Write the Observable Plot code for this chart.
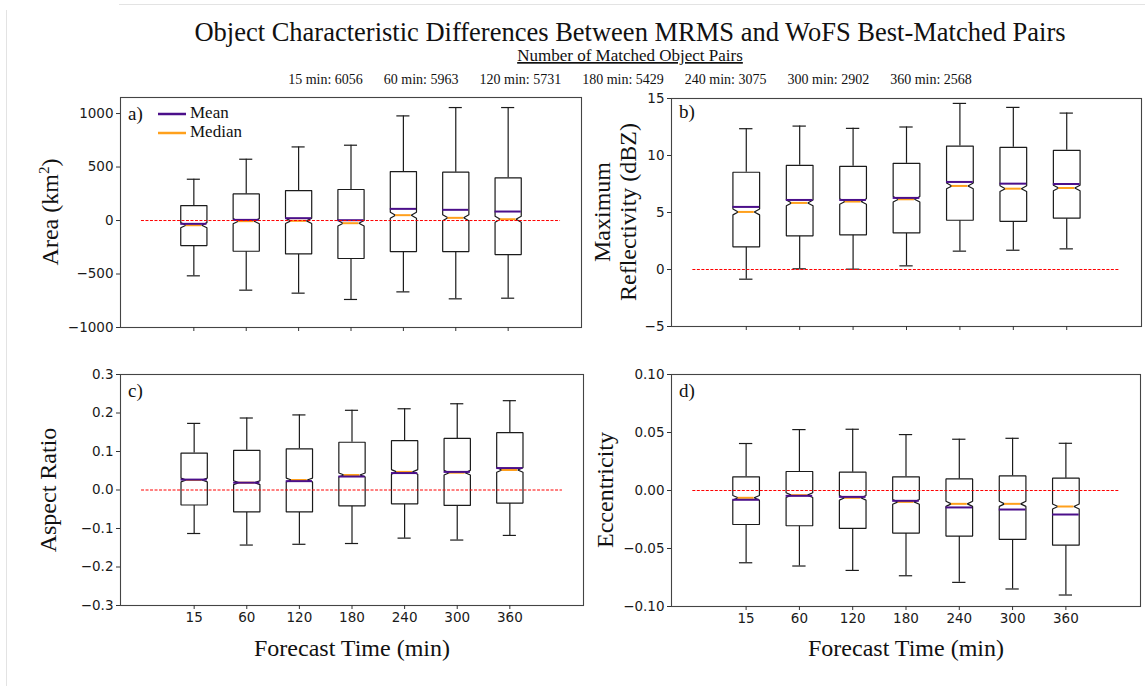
<!DOCTYPE html>
<html><head><meta charset="utf-8">
<script src="https://cdn.jsdelivr.net/npm/d3@7"></script>
<script src="https://cdn.jsdelivr.net/npm/@observablehq/plot@0.6"></script>
<style>
body{margin:0;background:#fff;}
#root{position:relative;width:1145px;height:686px;overflow:hidden;background:#fff;}
.panel{position:absolute;}
#overlay{position:absolute;left:0;top:0;pointer-events:none;}
.serif{font-family:"Liberation Serif","Times New Roman",serif;fill:#111;}
</style></head><body><div id="root"></div>
<script>
// ---------- data ----------
const times = ["15", "60", "120", "180", "240", "300", "360"];
const pairCounts = [6056, 5963, 5731, 5429, 3075, 2902, 2568];

// a) Area (km^2)
const areaLo     = [-517, -651, -679, -738, -667, -732, -726];
const areaQ1     = [-234, -287, -312, -355, -290, -290, -318];
const areaMedian = [-44, -6, -3, -25, 50, 25, 12];
const areaMean   = [-31, 6, 22, 3, 109, 100, 84];
const areaQ3     = [140, 249, 280, 290, 458, 452, 399];
const areaHi     = [386, 573, 688, 704, 978, 1056, 1056];
const areaNotch  = [24, 24, 25, 26, 28, 28, 28];

// b) Maximum Reflectivity (dBZ)
const reflLo     = [-0.85, 0.06, 0.03, 0.32, 1.61, 1.69, 1.81];
const reflQ1     = [1.99, 2.95, 3.04, 3.21, 4.32, 4.23, 4.50];
const reflMedian = [5.05, 5.84, 5.96, 6.16, 7.33, 7.09, 7.15];
const reflMean   = [5.49, 6.10, 6.10, 6.28, 7.68, 7.53, 7.50];
const reflQ3     = [8.53, 9.14, 9.05, 9.31, 10.83, 10.72, 10.45];
const reflHi     = [12.35, 12.58, 12.38, 12.50, 14.57, 14.22, 13.72];
const reflNotch  = [0.26, 0.25, 0.24, 0.24, 0.25, 0.25, 0.24];

// c) Aspect Ratio
const aspLo      = [-0.113, -0.143, -0.141, -0.139, -0.125, -0.130, -0.118];
const aspQ1      = [-0.039, -0.057, -0.057, -0.041, -0.036, -0.040, -0.034];
const aspMedian  = [0.026, 0.019, 0.026, 0.039, 0.047, 0.045, 0.052];
const aspMean    = [0.027, 0.019, 0.023, 0.035, 0.044, 0.047, 0.057];
const aspQ3      = [0.096, 0.103, 0.107, 0.124, 0.128, 0.134, 0.149];
const aspHi      = [0.173, 0.187, 0.195, 0.207, 0.211, 0.224, 0.232];
const aspNotch   = [0.005, 0.005, 0.005, 0.005, 0.006, 0.006, 0.006];

// d) Eccentricity
const eccLo      = [-0.0623, -0.0651, -0.0689, -0.0735, -0.0792, -0.0849, -0.0901];
const eccQ1      = [-0.0293, -0.0304, -0.0327, -0.0367, -0.0393, -0.0422, -0.0471];
const eccMedian  = [-0.0063, -0.0040, -0.0063, -0.0098, -0.0115, -0.0115, -0.0138];
const eccMean    = [-0.0080, -0.0046, -0.0055, -0.0089, -0.0146, -0.0164, -0.0207];
const eccQ3      = [0.0118, 0.0164, 0.0158, 0.0118, 0.0100, 0.0126, 0.0106];
const eccHi      = [0.0405, 0.0525, 0.0528, 0.0482, 0.0442, 0.0450, 0.0407];
const eccNotch   = [0.0020, 0.0020, 0.0020, 0.0021, 0.0022, 0.0022, 0.0022];

const areaTicks = [-1000, -500, 0, 500, 1000];
const reflTicks = [-5, 0, 5, 10, 15];
const aspTicks  = [-0.3, -0.2, -0.1, 0.0, 0.1, 0.2, 0.3];
const eccTicks  = [-0.10, -0.05, 0.00, 0.05, 0.10];

// ---------- helpers ----------
const MEAN_COLOR = "#4b0f8a";
const MEDIAN_COLOR = "#ffa01c";
const BOX_HALF = 0.25, NOTCH_HALF = 0.15, CAP_HALF = 0.125;

function makeBoxes(lo, q1, med, mean, q3, hi, notch) {
  return times.map((t, i) => ({pos: i + 1, time: t, lo: lo[i], q1: q1[i], med: med[i],
    mean: mean[i], q3: q3[i], hi: hi[i], notch: notch[i]}));
}
function outline(boxes) {
  return boxes.flatMap(b => [
    [b.pos - BOX_HALF, b.q1], [b.pos + BOX_HALF, b.q1],
    [b.pos + BOX_HALF, b.med - b.notch], [b.pos + NOTCH_HALF, b.med],
    [b.pos + BOX_HALF, b.med + b.notch], [b.pos + BOX_HALF, b.q3],
    [b.pos - BOX_HALF, b.q3], [b.pos - BOX_HALF, b.med + b.notch],
    [b.pos - NOTCH_HALF, b.med], [b.pos - BOX_HALF, b.med - b.notch]
  ].map(([x, y]) => ({box: b.pos, x, y})));
}

const panels = [
  {boxes: makeBoxes(areaLo, areaQ1, areaMedian, areaMean, areaQ3, areaHi, areaNotch),
   yDomain: [-1000, 1150], yTicks: areaTicks, yFormat: d3.format("d"), xLabels: false,
   left: 0, top: 85, width: 590, height: 260, mt: 12, mr: 9, mb: 18, ml: 120},
  {boxes: makeBoxes(reflLo, reflQ1, reflMedian, reflMean, reflQ3, reflHi, reflNotch),
   yDomain: [-5, 15], yTicks: reflTicks, yFormat: d3.format("d"), xLabels: false,
   left: 590, top: 85, width: 555, height: 260, mt: 13, mr: 4, mb: 19, ml: 81},
  {boxes: makeBoxes(aspLo, aspQ1, aspMedian, aspMean, aspQ3, aspHi, aspNotch),
   yDomain: [-0.3, 0.3], yTicks: aspTicks, yFormat: d3.format(".1f"), xLabels: true,
   left: 0, top: 360, width: 590, height: 270, mt: 14, mr: 7, mb: 25, ml: 120},
  {boxes: makeBoxes(eccLo, eccQ1, eccMedian, eccMean, eccQ3, eccHi, eccNotch),
   yDomain: [-0.1, 0.1], yTicks: eccTicks, yFormat: d3.format(".2f"), xLabels: true,
   left: 590, top: 360, width: 555, height: 270, mt: 14, mr: 5, mb: 24, ml: 81}
];

const root = document.getElementById("root");

for (const p of panels) {
  const chart = Plot.plot({
    width: p.width, height: p.height,
    marginTop: p.mt, marginRight: p.mr, marginBottom: p.mb, marginLeft: p.ml,
    style: {fontFamily: "'DejaVu Sans', sans-serif", fontSize: "13.5px", color: "#1a1a1a", background: "transparent", overflow: "visible"},
    x: {domain: [-0.4, 8.4]},
    y: {domain: p.yDomain},
    marks: [
      Plot.frame({stroke: "#444", strokeWidth: 1.1}),
      Plot.axisX({ticks: [1, 2, 3, 4, 5, 6, 7], tickSize: 4, tickPadding: 3, label: null,
        tickFormat: p.xLabels ? (i => times[i - 1]) : (() => ""), stroke: "#333"}),
      Plot.axisY({ticks: p.yTicks, tickSize: 4, tickPadding: 3, label: null,
        tickFormat: p.yFormat, stroke: "#333"}),
      Plot.ruleX(p.boxes, {x: "pos", y1: "q3", y2: "hi", stroke: "#1b1b1b", strokeWidth: 1.2}),
      Plot.ruleX(p.boxes, {x: "pos", y1: "lo", y2: "q1", stroke: "#1b1b1b", strokeWidth: 1.2}),
      Plot.ruleY(p.boxes, {y: "hi", x1: d => d.pos - CAP_HALF, x2: d => d.pos + CAP_HALF, stroke: "#1b1b1b", strokeWidth: 1.2}),
      Plot.ruleY(p.boxes, {y: "lo", x1: d => d.pos - CAP_HALF, x2: d => d.pos + CAP_HALF, stroke: "#1b1b1b", strokeWidth: 1.2}),
      Plot.line(outline(p.boxes), {x: "x", y: "y", z: "box", curve: "linear-closed",
        fill: "white", stroke: "#1b1b1b", strokeWidth: 1.2, strokeLinejoin: "miter"}),
      Plot.ruleY(p.boxes, {y: "med", x1: d => d.pos - NOTCH_HALF, x2: d => d.pos + NOTCH_HALF, stroke: MEDIAN_COLOR, strokeWidth: 2}),
      Plot.ruleY(p.boxes, {y: "mean", x1: d => d.pos - BOX_HALF, x2: d => d.pos + BOX_HALF, stroke: MEAN_COLOR, strokeWidth: 2}),
      Plot.ruleY([0], {x1: 0, x2: 8, stroke: "#ff0000", strokeWidth: 1, strokeDasharray: "3,1.5"})
    ]
  });
  const holder = document.createElement("div");
  holder.className = "panel";
  holder.style.left = p.left + "px";
  holder.style.top = p.top + "px";
  holder.appendChild(chart);
  root.appendChild(holder);
}

// ---------- text overlay ----------
const svg = d3.select(root).append("svg").attr("id", "overlay").attr("width", 1145).attr("height", 686);

// faint screenshot border
svg.append("line").attr("x1", 119).attr("x2", 1145).attr("y1", 4.5).attr("y2", 4.5).attr("stroke", "#e3e3e3");
svg.append("line").attr("x1", 6.5).attr("x2", 6.5).attr("y1", 10).attr("y2", 686).attr("stroke", "#e3e3e3");

function txt(x, y, s, size, anchor = "middle", rotate = 0) {
  const t = svg.append("text").attr("class", "serif").attr("font-size", size)
    .attr("text-anchor", anchor)
    .attr("transform", `translate(${x},${y})` + (rotate ? ` rotate(${rotate})` : ""));
  t.text(s);
  return t;
}

txt(630, 41, "Object Characteristic Differences Between MRMS and WoFS Best-Matched Pairs", 26.5);
txt(630, 61, "Number of Matched Object Pairs", 17).attr("text-decoration", "underline");
txt(630, 84, times.map((t, i) => `${t} min: ${pairCounts[i]}`).join("\u2003\u2002"), 14)
  .style("white-space", "pre");

// y labels
const areaLab = txt(58, 212, "Area (km", 24, "middle", -90);
areaLab.append("tspan").attr("font-size", 15).attr("dy", -9).text("2");
areaLab.append("tspan").attr("dy", 9).text(")");
txt(610, 212, "Maximum", 24, "middle", -90);
txt(636, 212, "Reflectivity (dBZ)", 24, "middle", -90);
txt(56, 490, "Aspect Ratio", 24, "middle", -90);
txt(613, 490, "Eccentricity", 24, "middle", -90);

// x labels
txt(352, 656, "Forecast Time (min)", 24);
txt(906, 656, "Forecast Time (min)", 24);

// panel letters
txt(128, 120, "a)", 19, "start");
txt(679, 118, "b)", 19, "start");
txt(128, 397, "c)", 19, "start");
txt(679, 397, "d)", 19, "start");

// legend
svg.append("line").attr("x1", 158).attr("x2", 186).attr("y1", 114).attr("y2", 114).attr("stroke", MEAN_COLOR).attr("stroke-width", 2.5);
svg.append("line").attr("x1", 158).attr("x2", 186).attr("y1", 133).attr("y2", 133).attr("stroke", MEDIAN_COLOR).attr("stroke-width", 2.5);
txt(190, 118, "Mean", 17, "start");
txt(190, 137, "Median", 17, "start");
</script></body></html>
